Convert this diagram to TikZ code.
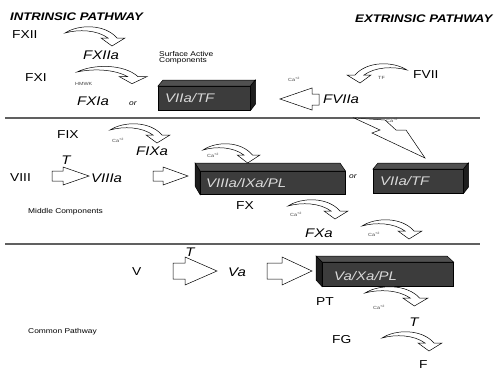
\documentclass[tikz,border=0pt]{standalone}
\usepackage{fontspec}
\setmainfont{Liberation Sans}[FakeStretch=1.2]
\definecolor{frontc}{HTML}{3C3C3C}
\definecolor{topc}{HTML}{505050}
\definecolor{sidec}{HTML}{1E1E1E}
\definecolor{sepc}{HTML}{606060}
\tikzset{
  lbl/.style={font=\fontsize{11.5}{13}\selectfont, inner sep=0pt, anchor=west},
  ilbl/.style={font=\fontsize{12.5}{14}\selectfont\itshape, inner sep=0pt, anchor=west},
  tinylbl/.style={font=\fontsize{4.5}{5}\selectfont, text=black!75, inner sep=0pt, anchor=west},
  smalllbl/.style={font=\fontsize{7}{8}\selectfont, inner sep=0pt, anchor=west},
  orlbl/.style={font=\fontsize{7}{8}\selectfont\itshape, inner sep=0pt, anchor=west},
  headlbl/.style={font=\fontsize{11}{13}\selectfont\bfseries\itshape, inner sep=0pt, anchor=west},
  boxtxt/.style={font=\fontsize{12.5}{14}\selectfont\itshape, text=gray!30, inner sep=0pt, anchor=west},
  boxfront/.style={draw=black, fill=frontc, line width=0.5pt, inner sep=0pt, anchor=north west},
  boxtop/.style={draw=black, fill=topc, line width=0.5pt},
  boxside/.style={draw=black, fill=sidec, line width=0.5pt},
  blk/.style={draw=black, fill=white, line width=0.5pt, line join=miter},
  sepline/.style={draw=sepc, line width=1.4pt},
  curvarrow/.pic={
    \draw[draw=black, fill=white, line width=0.5pt]
      (0,0) .. controls (14,-9) and (40,-9) .. (52,5) -- (60,5) -- (47,13) -- (36,5) -- (43,5)
      .. controls (32,-3) and (14,-4) .. (0,0) -- cycle;
  }
}
\begin{document}
\begin{tikzpicture}[x=1pt,y=-1pt]
\useasboundingbox (0,0) rectangle (496,373);

% headings
\node[headlbl] (intr) at (10,17) {INTRINSIC PATHWAY};
\node[headlbl] (extr) at (355,19) {EXTRINSIC PATHWAY};

% separators
\coordinate (s1a) at (5,118);  \coordinate (s1b) at (480,118);
\coordinate (s2a) at (5,244);  \coordinate (s2b) at (480,244);
\draw[sepline] (s1a) -- (s1b);
\draw[sepline] (s2a) -- (s2b);

% ---------- top section ----------
\node[lbl] (fxii) at (12,35) {FXII};
\pic at (65,33) {curvarrow};
\node[ilbl] (fxiia) at (83,55) {FXIIa};
\node[smalllbl, align=left] (surf) at (159,57.5) {Surface Active\\[-1.5pt]Components};

\node[lbl] (fxi) at (25,78) {FXI};
\node[tinylbl] (hmwk) at (75,84) {HMWK};
\pic[xscale=1.17, yscale=0.9] at (77,72) {curvarrow};
\node[ilbl] (fxia) at (77,101) {FXIa};
\node[orlbl] (or1) at (129,104) {or};

% box 1
\node[boxfront, minimum width=92pt, minimum height=24pt] (b1) at (158,86) {};
\draw[boxtop] (b1.north west) -- ++(5,-6) -- ++(92,0) -- (b1.north east) -- cycle;
\draw[boxside] (b1.north east) -- ++(5,-6) -- ++(0,24) -- (b1.south east) -- cycle;
\node[boxtxt] (b1t) at (165,98) {VIIa/TF};

% extrinsic
\node[tinylbl] (ca1) at (288,79) {Ca\textsuperscript{+2}};
\node[tinylbl] (tf) at (378,78) {TF};
\node[lbl] (fvii) at (413,75) {FVII};
\pic[xscale=-1] at (407,70) {curvarrow};
\draw[blk] (280,99) -- (312,88) -- (312,94) -- (319,94) -- (319,105) -- (312,105) -- (312,110) -- cycle;
\node[ilbl] (fviia) at (323,99) {FVIIa};

% lightning
\draw[blk] (354,118) -- (385,120) -- (396,130) -- (406,130) -- (425,158) -- (372,133) -- (380,130) -- cycle;
\node[tinylbl] (ca2) at (386,120) {Ca\textsuperscript{+2}};

% ---------- middle section ----------
\node[lbl] (fix) at (57,135) {FIX};
\pic at (110,130) {curvarrow};
\node[tinylbl] (ca3) at (112,140) {Ca\textsuperscript{+2}};
\node[ilbl] (fixa) at (136,151) {FIXa};

\node[font=\fontsize{12.5}{14}\selectfont\itshape, inner sep=0pt] (t1) at (66,160) {T};
\node[lbl] (viii) at (10,178) {VIII};
\draw[blk] (52,171) -- (63,171) -- (63,167) -- (89,176) -- (63,185) -- (63,181) -- (52,181) -- cycle;
\node[ilbl] (viiia) at (91,178) {VIIIa};
\draw[blk] (153,171) -- (163,171) -- (163,167) -- (188,176) -- (163,185) -- (163,181) -- (153,181) -- cycle;

\pic[xscale=0.95] at (203,150) {curvarrow};
\node[tinylbl] (ca4) at (207,155) {Ca\textsuperscript{+2}};

% box 2
\node[boxfront, minimum width=145pt, minimum height=23pt] (b2) at (200,171) {};
\draw[boxtop] (b2.north west) -- ++(-5,-8) -- ++(145,0) -- (b2.north east) -- cycle;
\draw[boxside] (b2.north west) -- ++(-5,-8) -- ++(0,23) -- (b2.south west) -- cycle;
\node[boxtxt] (b2t) at (206,183) {VIIIa/IXa/PL};

\node[orlbl] (or2) at (349,177) {or};

% box 3
\node[boxfront, minimum width=90pt, minimum height=24pt] (b3) at (373,169) {};
\draw[boxtop] (b3.north west) -- ++(5,-6) -- ++(90,0) -- (b3.north east) -- cycle;
\draw[boxside] (b3.north east) -- ++(5,-6) -- ++(0,24) -- (b3.south east) -- cycle;
\node[boxtxt] (b3t) at (380,181) {VIIa/TF};

\node[smalllbl] (mid) at (28,212) {Middle Components};

\node[lbl] (fx) at (236,206) {FX};
\pic at (288,206) {curvarrow};
\node[tinylbl] (ca5) at (290,214) {Ca\textsuperscript{+2}};
\node[ilbl] (fxa) at (305,233) {FXa};
\pic at (362,226) {curvarrow};
\node[tinylbl] (ca6) at (368,234) {Ca\textsuperscript{+2}};

% ---------- common pathway ----------
\node[font=\fontsize{12.5}{14}\selectfont\itshape, inner sep=0pt] (t2) at (190,252) {T};
\node[lbl] (v) at (132,272) {V};
\draw[blk] (173,263) -- (185,263) -- (185,257) -- (217,271) -- (185,285) -- (185,279) -- (173,279) -- cycle;
\node[ilbl] (va) at (228,272) {Va};
\draw[blk] (267,263) -- (282,263) -- (282,257) -- (312,271) -- (282,285) -- (282,279) -- (267,279) -- cycle;

% box 4
\node[boxfront, minimum width=131pt, minimum height=24pt] (b4) at (322,262) {};
\draw[boxtop] (b4.north west) -- ++(-6,-6) -- ++(131,0) -- (b4.north east) -- cycle;
\draw[boxside] (b4.north west) -- ++(-6,-6) -- ++(0,24) -- (b4.south west) -- cycle;
\node[boxtxt] (b4t) at (334,276) {Va/Xa/PL};

\node[lbl] (pt) at (316,302) {PT};
\pic[xscale=1.05] at (365,293) {curvarrow};
\node[tinylbl] (ca7) at (373,307) {Ca\textsuperscript{+2}};
\node[font=\fontsize{12.5}{14}\selectfont\itshape, inner sep=0pt] (t3) at (414,322) {T};
\node[lbl] (fg) at (332,340) {FG};
\pic at (382,338) {curvarrow};
\node[lbl] (f) at (419,365) {F};

\node[smalllbl] (common) at (28,332) {Common Pathway};
\end{tikzpicture}
\end{document}
